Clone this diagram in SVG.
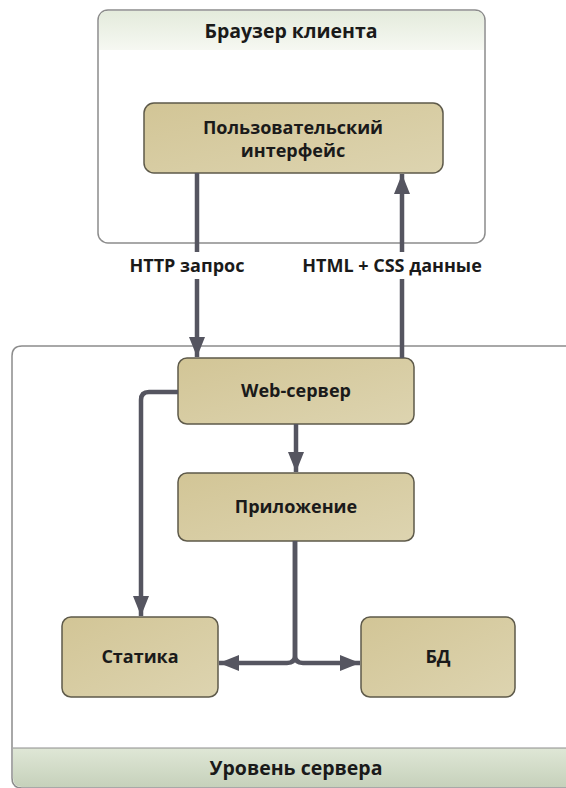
<svg xmlns="http://www.w3.org/2000/svg" width="566" height="788" viewBox="0 0 566 788">
<defs>
<linearGradient id="band" x1="0" y1="0" x2="0" y2="1"><stop offset="0" stop-color="#e4ebdc"/><stop offset="1" stop-color="#f6f8f2"/></linearGradient>
<linearGradient id="band2" x1="0" y1="0" x2="0" y2="1"><stop offset="0" stop-color="#dfe7d6"/><stop offset="1" stop-color="#c6d1bb"/></linearGradient>
<linearGradient id="node" x1="0" y1="0" x2="1" y2="1"><stop offset="0" stop-color="#d2c596"/><stop offset="1" stop-color="#ddd4b0"/></linearGradient>
<marker id="ah" markerUnits="userSpaceOnUse" markerWidth="22" markerHeight="16" refX="20" refY="8" orient="auto"><path d="M0,0 L20,8 L0,16 z" fill="#555560"/></marker>
</defs>
<style>
.cont{fill:#fff;stroke:#8c8c8c;stroke-width:1.5}
.nd{fill:url(#node);stroke:#5e5a4a;stroke-width:1.5}
.t{font-family:"Open Sans","DejaVu Sans",sans-serif;font-weight:bold;fill:#1a1a1a;text-anchor:middle;font-size:18px}
.h{font-size:19.5px}
.c{fill:none;stroke:#555560;stroke-width:4.5}
</style>
<g id="browser">
<rect class="cont" x="98" y="10" width="387" height="233" rx="10"/>
<path d="M99,50 V20 Q99,11 108,11 H475 Q484,11 484,20 V50 Z" fill="url(#band)"/>
<text class="t h" x="291" y="38">Браузер клиента</text>
</g>
<g id="server">
<path d="M600,346 H22 Q12,346 12,356 V778 Q12,788 22,788 H600" class="cont"/>
<path d="M13,748 H600 V787 H22 Q13,787 13,778 Z" fill="url(#band2)"/>
<line x1="13" y1="748" x2="600" y2="748" stroke="#8c8c8c" stroke-width="1"/>
<text class="t h" x="296" y="775">Уровень сервера</text>
</g>
<g id="ui">
<rect class="nd" x="144" y="103" width="299" height="70" rx="10"/>
<text class="t" x="293" y="134">Пользовательский</text>
<text class="t" x="293" y="157">интерфейс</text>
</g>
<g id="web">
<rect class="nd" x="178" y="358" width="236" height="66" rx="9"/>
<text class="t" x="296" y="397">Web-сервер</text>
</g>
<g id="app">
<rect class="nd" x="178" y="473" width="236" height="68" rx="9"/>
<text class="t" x="296" y="513">Приложение</text>
</g>
<g id="static">
<rect class="nd" x="62" y="617" width="156" height="80" rx="9"/>
<text class="t" x="140" y="663">Статика</text>
</g>
<g id="db">
<rect class="nd" x="361" y="617" width="154" height="80" rx="9"/>
<text class="t" x="438" y="663">БД</text>
</g>
<g id="connectors">
<path class="c" d="M197,173 V252 M197,279 V357" marker-end="url(#ah)"/>
<path class="c" d="M402,358 V279 M402,252 V174" marker-end="url(#ah)"/>
<path class="c" d="M178,392 H149 Q141,392 141,400 V616" marker-end="url(#ah)"/>
<path class="c" d="M296,424 V472" marker-end="url(#ah)"/>
<path class="c" d="M295,541 V655 Q295,663 287,663 H219" marker-end="url(#ah)"/>
<path class="c" d="M295,541 V655 Q295,663 303,663 H360" marker-end="url(#ah)"/>
<text class="t" x="187" y="272">HTTP запрос</text>
<text class="t" x="392" y="272">HTML + CSS данные</text>
</g>
</svg>
